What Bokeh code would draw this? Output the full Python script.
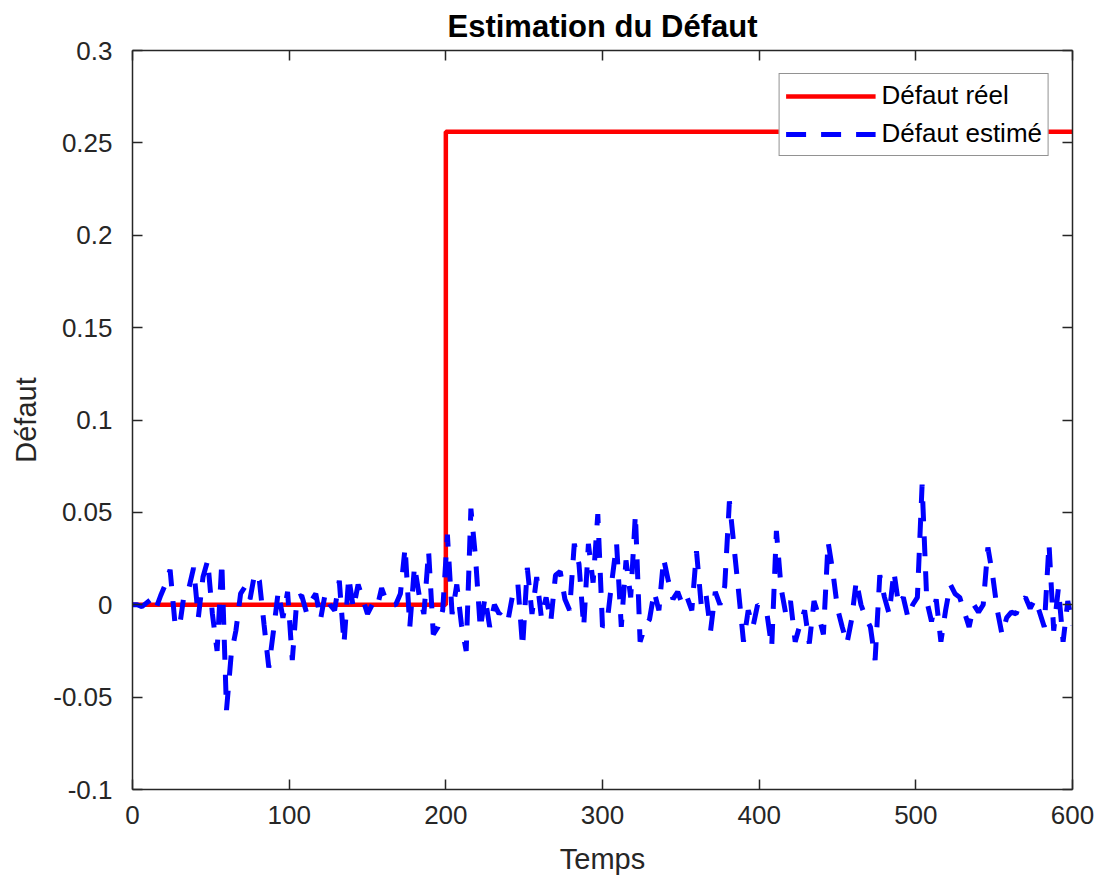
import numpy as np
from bokeh.plotting import figure
from bokeh.models import (LinearAxis, FixedTicker, PrintfTickFormatter, CustomJSTickFormatter,
                          Legend, LegendItem, Range1d)
from bokeh.embed import file_html
from bokeh.resources import INLINE

TITLE = "Estimation du Défaut"
XLABEL = "Temps"
YLABEL = "Défaut"
LEGEND_REAL = "Défaut réel"
LEGEND_EST = "Défaut estimé"

x_ticks = [0, 100, 200, 300, 400, 500, 600]
y_ticks = [-0.1, -0.05, 0, 0.05, 0.1, 0.15, 0.2, 0.25, 0.3]

# real fault (step)
real_t = [0, 200, 200, 600]
real_f = [0.0, 0.0, 0.256, 0.256]

# estimated fault, sampled every 3 time units (values in 1e-3)
est_t = list(range(0, 601, 3))
est_f_milli = [
    0, 0, -1, 1, 3, -2, 5, 11, 19, -9,
    -12, 6, 9, 20, -7, 15, 24, -5, -25, 23,
    -57, -27, -14, 6, 10, 3, 17, 13, -11, -34,
    -14, 7, -7, 7, -30, 4, 5, -4, 2, 6,
    -8, 6, 0, -3, 13, -21, 15, -2, 11, 3,
    -5, 0, -2, 9, 2, 0, 0, 6, 31, -12,
    21, 5, -5, 29, -16, -12, -3, 38, -5, 11,
    -11, -25, 52, 25, -13, 4, -12, 0, -5, -2,
    -7, 7, 11, -23, 20, -5, 15, -7, 4, -9,
    16, 18, 3, -3, 33, 22, -12, 33, 12, 49,
    -12, -9, 13, 33, -12, 24, 4, 49, -20, -12,
    -8, 7, -3, 25, 13, 3, 7, 0, 4, -3,
    29, 0, 6, -14, 7, 0, 10, 56, 31, 6,
    -20, -3, -12, 0, -2, -5, -23, 40, 9, -5,
    2, -20, -11, -3, -21, 2, -6, -16, 34, 18,
    -2, -12, -21, -8, 13, 0, -7, -12, -30, 16,
    4, -5, 18, 0, 4, -7, 0, 4, 65, 2,
    -9, 3, -20, -3, 11, 6, 4, -4, -12, 0,
    -4, 0, 31, 16, -3, -16, -7, -4, -5, 2,
    4, -2, 3, -4, -12, 33, -14, 9, -20, 2,
    -11,
]
est_f = [v / 1000.0 for v in est_f_milli]

FONT = "Liberation Sans"
DARK = "#262626"

p = figure(width=1099, height=879, output_backend="svg", toolbar_location=None,
           x_range=Range1d(0, 600), y_range=Range1d(-0.1, 0.3),
           min_border_left=132, min_border_right=27, min_border_top=50, min_border_bottom=90,
           background_fill_color="white", border_fill_color="white")

p.title.text = TITLE
p.title.align = "center"
p.title.text_font = FONT
p.title.text_font_style = "bold"
p.title.text_font_size = "31px"
p.title.text_color = "#000000"
p.title.standoff = 13
p.outline_line_color = None
p.grid.visible = False

def style_axis(ax):
    ax.axis_line_color = DARK
    ax.axis_line_width = 1.5
    ax.major_tick_line_color = DARK
    ax.major_tick_line_width = 1.5
    ax.major_tick_in = 10
    ax.major_tick_out = 0
    ax.minor_tick_line_color = None
    ax.major_label_text_font = FONT
    ax.major_label_text_font_size = "26px"
    ax.major_label_text_color = DARK
    ax.axis_label_text_font = FONT
    ax.axis_label_text_font_size = "29px"
    ax.axis_label_text_font_style = "normal"
    ax.axis_label_text_color = DARK

xa = p.xaxis[0]
ya = p.yaxis[0]
style_axis(xa)
style_axis(ya)
xa.ticker = FixedTicker(ticks=x_ticks)
ya.ticker = FixedTicker(ticks=y_ticks)
xa.formatter = PrintfTickFormatter(format="%g")
ya.formatter = PrintfTickFormatter(format="%g")
xa.axis_label = XLABEL
ya.axis_label = YLABEL
xa.major_label_standoff = 16
ya.major_label_standoff = 20
xa.axis_label_standoff = 16
ya.axis_label_standoff = 8

top = LinearAxis(ticker=FixedTicker(ticks=x_ticks), formatter=CustomJSTickFormatter(code="return ''"))
right = LinearAxis(ticker=FixedTicker(ticks=y_ticks), formatter=CustomJSTickFormatter(code="return ''"))
for ax in (top, right):
    style_axis(ax)
    ax.major_label_standoff = 0
p.add_layout(top, "above")
p.add_layout(right, "right")

r_real = p.line(real_t, real_f, line_color="#FF0000", line_width=4.5)
r_est = p.line(est_t, est_f, line_color="#0000FF", line_width=5, line_dash="20 15")

legend = Legend(items=[LegendItem(label=LEGEND_REAL, renderers=[r_real]),
                       LegendItem(label=LEGEND_EST, renderers=[r_est])],
                location="top_right")
legend.margin = 23
legend.padding = 6
legend.spacing = 7
legend.glyph_width = 90
legend.glyph_height = 30
legend.label_height = 30
legend.label_standoff = 6
legend.label_text_font = FONT
legend.label_text_font_size = "26px"
legend.label_text_color = "#000000"
legend.border_line_color = DARK
legend.border_line_width = 1
legend.background_fill_color = "white"
legend.background_fill_alpha = 1
p.add_layout(legend)

open("out.html", "w").write(file_html(p, INLINE))
